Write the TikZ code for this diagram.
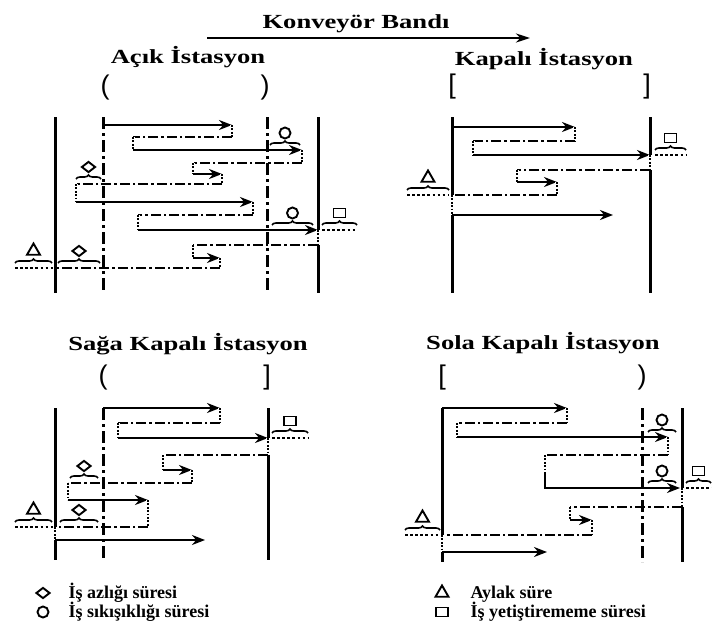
\documentclass[tikz,border=0pt]{standalone}
\usepackage{fontspec}
\setmainfont{Liberation Serif}
\newfontfamily\titlefont{Liberation Serif}[FakeStretch=1.33]
\newfontfamily\bracketfont{Liberation Sans}
\usetikzlibrary{arrows.meta, shapes.geometric, decorations.pathreplacing}

\tikzset{
  wall/.style={line width=3pt},
  limit/.style={line width=3pt, dash pattern=on 12pt off 4pt on 3pt off 4pt},
  work/.style={line width=2.6pt, -{Stealth[length=13pt, width=10pt]}},
  back/.style={line width=2.4pt, dash pattern=on 10pt off 3pt on 2.5pt off 3pt},
  drop/.style={line width=2.6pt, dash pattern=on 1.8pt off 1.6pt,
    preaction={draw=white, line width=3.4pt, solid}},
  gap/.style={line width=2.6pt, dash pattern=on 2.5pt off 2.6pt},
  curly/.style={line width=1.6pt, decorate, decoration={brace, amplitude=4pt}},
  title/.style={font=\titlefont\bfseries\fontsize{20}{24}\selectfont, anchor=base},
  bracket/.style={font=\bracketfont\fontsize{27}{27}\selectfont},
  legend/.style={font=\bfseries\fontsize{18}{20}\selectfont, anchor=base west},
  slack/.style={draw, line width=1.9pt, diamond, minimum width=14pt, minimum height=11pt, inner sep=0pt},
  rush/.style={draw, line width=1.9pt, circle, minimum size=11pt, inner sep=0pt},
  idle/.style={draw, line width=1.9pt, regular polygon, regular polygon sides=3, minimum size=15pt, inner sep=0pt},
  late/.style={draw, line width=1.9pt, rectangle, minimum width=12pt, minimum height=9pt, inner sep=0pt},
}

% drop down, walk back, drop down again
\newcommand{\backturn}[5]{%
  \draw[drop] (#1,#2) -- (#1,#3);
  \draw[back] (#1,#3) -- (#4,#3);
  \draw[drop] (#4,#3) -- (#4,#5);}
% brace over a stretch of line with its marker on top
\newcommand{\timemark}[5]{%
  \draw[curly] (#2,#4-5) -- (#3,#4-5);
  \node[#5] (#1) at ({(#2+#3)/2},#4-17) {};}

\begin{document}
\begin{tikzpicture}[x=1pt, y=-1pt]
\useasboundingbox (0,0) rectangle (712,624);

\node[title] (belt) at (356,28) {Konveyör Bandı};
\coordinate (belt-s) at (207,38);
\coordinate (belt-e) at (530,38);
\draw[line width=2.8pt, -{Stealth[length=14pt, width=9pt]}] (belt-s) -- (belt-e);

% Acik istasyon
\node[title] (open) at (188,63) {Açık İstasyon};
\node[bracket] (open-l) at (105,88) {(};
\node[bracket] (open-r) at (265,88) {)};
\draw[wall] (55,117) -- (55,293) (318,117) -- (318,293);
\draw[limit] (103,117) -- (103,293) (267,117) -- (267,293);
\draw[work] (103,125) -- (232,125);
\backturn{232}{125}{137}{133}{150}
\draw[work] (133,150) -- (302,150);
\backturn{302}{150}{163}{193}{174}
\draw[work] (193,174) -- (222,174);
\backturn{222}{174}{184}{76}{202}
\draw[work] (76,202) -- (253,202);
\backturn{253}{202}{215}{138}{230}
\draw[work] (138,230) -- (318,230);
\backturn{318}{230}{245}{193}{258}
\draw[work] (193,258) -- (220,258);
\draw[drop] (220,258) -- (220,268);
\draw[back] (220,268) -- (55,268);
\draw[gap] (322,230) -- (357,230) (15,268) -- (53,268);
\timemark{open-c1}{270}{300}{150}{rush}
\timemark{open-d1}{76}{101}{184}{slack}
\timemark{open-c2}{272}{313}{230}{rush}
\timemark{open-s1}{322}{357}{230}{late}
\timemark{open-d2}{58}{100}{268}{slack}
\timemark{open-t1}{15}{52}{268}{idle}

% Kapali istasyon
\node[title] (closed) at (544,65) {Kapalı İstasyon};
\node[bracket] (closed-l) at (452,87) {[};
\node[bracket] (closed-r) at (647,87) {]};
\draw[wall] (452,117) -- (452,293) (650,117) -- (650,293);
\draw[work] (452,127) -- (575,127);
\backturn{575}{127}{141}{473}{155}
\draw[work] (473,155) -- (650,155);
\backturn{650}{155}{170}{517}{182}
\draw[work] (517,182) -- (557,182);
\backturn{557}{182}{195}{452}{215}
\draw[work] (452,215) -- (613,215);
\draw[gap] (655,155) -- (686,155) (407,195) -- (449,195);
\timemark{closed-s1}{655}{686}{155}{late}
\timemark{closed-t1}{407}{449}{195}{idle}

% Saga kapali istasyon
\node[title] (right) at (188,350) {Sağa Kapalı İstasyon};
\node[bracket] (right-l) at (103,378) {(};
\node[bracket] (right-r) at (267,378) {]};
\draw[wall] (55,408) -- (55,560) (268,408) -- (268,560);
\draw[limit] (103,408) -- (103,560);
\draw[work] (103,408) -- (220,408);
\backturn{220}{408}{423}{118}{438}
\draw[work] (118,438) -- (268,438);
\backturn{268}{438}{455}{163}{470}
\draw[work] (163,470) -- (192,470);
\backturn{192}{470}{483}{68}{500}
\draw[work] (68,500) -- (148,500);
\backturn{148}{500}{527}{55}{540}
\draw[work] (55,540) -- (205,540);
\draw[gap] (272,438) -- (308,438) (15,527) -- (53,527);
\timemark{right-s1}{272}{308}{438}{late}
\timemark{right-d1}{70}{98}{483}{slack}
\timemark{right-d2}{60}{98}{527}{slack}
\timemark{right-t1}{15}{52}{527}{idle}

% Sola kapali istasyon
\node[title] (left) at (543,349) {Sola Kapalı İstasyon};
\node[bracket] (left-l) at (442,378) {[};
\node[bracket] (left-r) at (642,378) {)};
\draw[wall] (442,408) -- (442,562) (682,408) -- (682,562);
\draw[limit] (642,408) -- (642,562);
\draw[work] (442,408) -- (567,408);
\backturn{567}{408}{423}{457}{437}
\draw[work] (457,437) -- (668,437);
\draw[drop] (668,437) -- (668,455);
\draw[back] (668,455) -- (545,455);
\draw[drop] (545,455) -- (545,472);
\draw[work] (545,472) |- (680,488);
\backturn{682}{488}{507}{570}{520}
\draw[work] (570,520) -- (592,520);
\backturn{592}{520}{535}{442}{552}
\draw[work] (442,552) -- (547,552);
\draw[gap] (686,488) -- (712,488) (405,535) -- (440,535);
\timemark{left-c1}{648}{676}{437}{rush}
\timemark{left-c2}{648}{676}{488}{rush}
\timemark{left-s1}{686}{711}{488}{late}
\timemark{left-t1}{405}{440}{535}{idle}

% legend
\node[slack] (key-d) at (43,593) {};
\node[legend] (key-dt) at (65,598) {İş azlığı süresi};
\node[rush] (key-c) at (43,612) {};
\node[legend] (key-ct) at (65,617) {İş sıkışıklığı süresi};
\node[idle] (key-t) at (442,593) {};
\node[legend] (key-tt) at (467,598) {Aylak süre};
\node[late] (key-s) at (442,612) {};
\node[legend] (key-st) at (467,617) {İş yetiştirememe süresi};
\end{tikzpicture}
\end{document}
